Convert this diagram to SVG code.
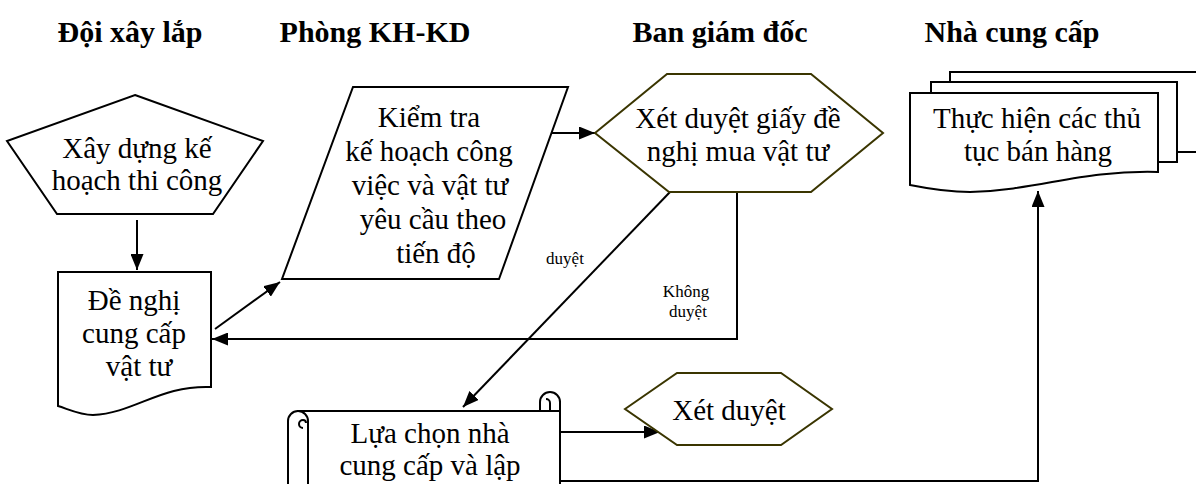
<svg xmlns="http://www.w3.org/2000/svg" width="1196" height="484" viewBox="0 0 1196 484">
<defs>
<style>
.t{font-family:"Liberation Serif","Times New Roman",serif;font-size:29px;fill:#000;text-anchor:middle}
.h{font-family:"Liberation Serif","Times New Roman",serif;font-size:30px;font-weight:bold;fill:#000;text-anchor:middle}
.s{font-family:"Liberation Serif","Times New Roman",serif;font-size:17px;fill:#000;text-anchor:middle}
.shape{fill:#fff;stroke:#000;stroke-width:2}
.hex{fill:#fff;stroke:#3a3500;stroke-width:2}
.c{fill:none;stroke:#000;stroke-width:2}
</style>
<marker id="arr" markerUnits="userSpaceOnUse" markerWidth="17" markerHeight="13" refX="16" refY="6.5" orient="auto">
<path d="M0,0 L16,6.5 L0,13 z" fill="#000"/>
</marker>
</defs>
<rect width="1196" height="484" fill="#fff"/>

<g id="titles">
<text class="h" x="130" y="42">Đội xây lắp</text>
<text class="h" x="375" y="42">Phòng KH-KD</text>
<text class="h" x="720" y="42">Ban giám đốc</text>
<text class="h" x="1012" y="42">Nhà cung cấp</text>
</g>

<g id="connectors">
<line class="c" x1="137" y1="220" x2="137" y2="270" marker-end="url(#arr)"/>
<line class="c" x1="215" y1="329" x2="280" y2="282" marker-end="url(#arr)"/>
<line class="c" x1="552" y1="133" x2="595" y2="133" marker-end="url(#arr)"/>
<line class="c" x1="670" y1="192" x2="463" y2="407" marker-end="url(#arr)"/>
<polyline class="c" points="737,192 737,339 212,339" marker-end="url(#arr)"/>
<line class="c" x1="560" y1="432" x2="660" y2="432" marker-end="url(#arr)"/>
<polyline class="c" points="560,481 1038,481 1038,191" marker-end="url(#arr)"/>
<text class="s" x="565" y="264">duyệt</text>
<text class="s" x="686" y="297">Không</text>
<text class="s" x="688" y="317">duyệt</text>
</g>

<g id="node-xay-dung">
<polygon class="shape" points="135,95 263,141 213,214 57,214 7,141"/>
<text class="t" x="137" y="158">Xây dựng kế</text>
<text class="t" x="137" y="190">hoạch thi công</text>
</g>

<g id="node-de-nghi">
<path class="shape" d="M58,272 H211 V387 C160,385 135,413 93,415 C80,415 68,409 58,406 Z"/>
<text class="t" x="134" y="310">Đề nghị</text>
<text class="t" x="134" y="343">cung cấp</text>
<text class="t" x="139" y="376">vật tư</text>
</g>

<g id="node-kiem-tra">
<polygon class="shape" points="353,87 568,87 499,279 282,279"/>
<text class="t" x="429" y="127">Kiểm tra</text>
<text class="t" x="429" y="161">kế hoạch công</text>
<text class="t" x="430" y="195">việc và vật tư</text>
<text class="t" x="433" y="229">yêu cầu theo</text>
<text class="t" x="436" y="263">tiến độ</text>
</g>

<g id="node-xet-duyet-giay">
<polygon class="hex" points="595,133 667,74 811,74 883,133 811,192 669,192"/>
<text class="t" x="738" y="128">Xét duyệt giấy đề</text>
<text class="t" x="738" y="161">nghị mua vật tư</text>
</g>

<g id="node-thuc-hien">
<rect class="shape" x="950" y="72" width="260" height="80"/>
<rect class="shape" x="931" y="82" width="246" height="80"/>
<path class="shape" d="M910,93 H1158 V172 C1080,170 1040,190 970,192 C945,192 925,188 910,185 Z"/>
<text class="t" x="1037" y="128">Thực hiện các thủ</text>
<text class="t" x="1038" y="161">tục bán hàng</text>
</g>

<g id="node-lua-chon">
<path class="shape" d="M298,411 H550 V402 H560 V500 H298 Z"/>
<path class="shape" d="M288,500 V421 A10,10 0 0 1 308,421 V500 Z"/>
<path class="c" d="M303,428 A4,4 0 0 1 303,420 A3,3 0 0 1 306,423"/>
<path class="shape" d="M540,411 V402 A10,10 0 1 1 560,402 V411 Z"/>
<path class="c" d="M550,411 V403 A4,4 0 0 0 546,399"/>
<line class="c" x1="298" y1="411" x2="550" y2="411"/>
<text class="t" x="430" y="443">Lựa chọn nhà</text>
<text class="t" x="430" y="475">cung cấp và lập</text>
</g>

<g id="node-xet-duyet">
<polygon class="hex" points="625,409 677,373 781,373 832,409 781,445 677,445"/>
<text class="t" x="729" y="420">Xét duyệt</text>
</g>
</svg>
